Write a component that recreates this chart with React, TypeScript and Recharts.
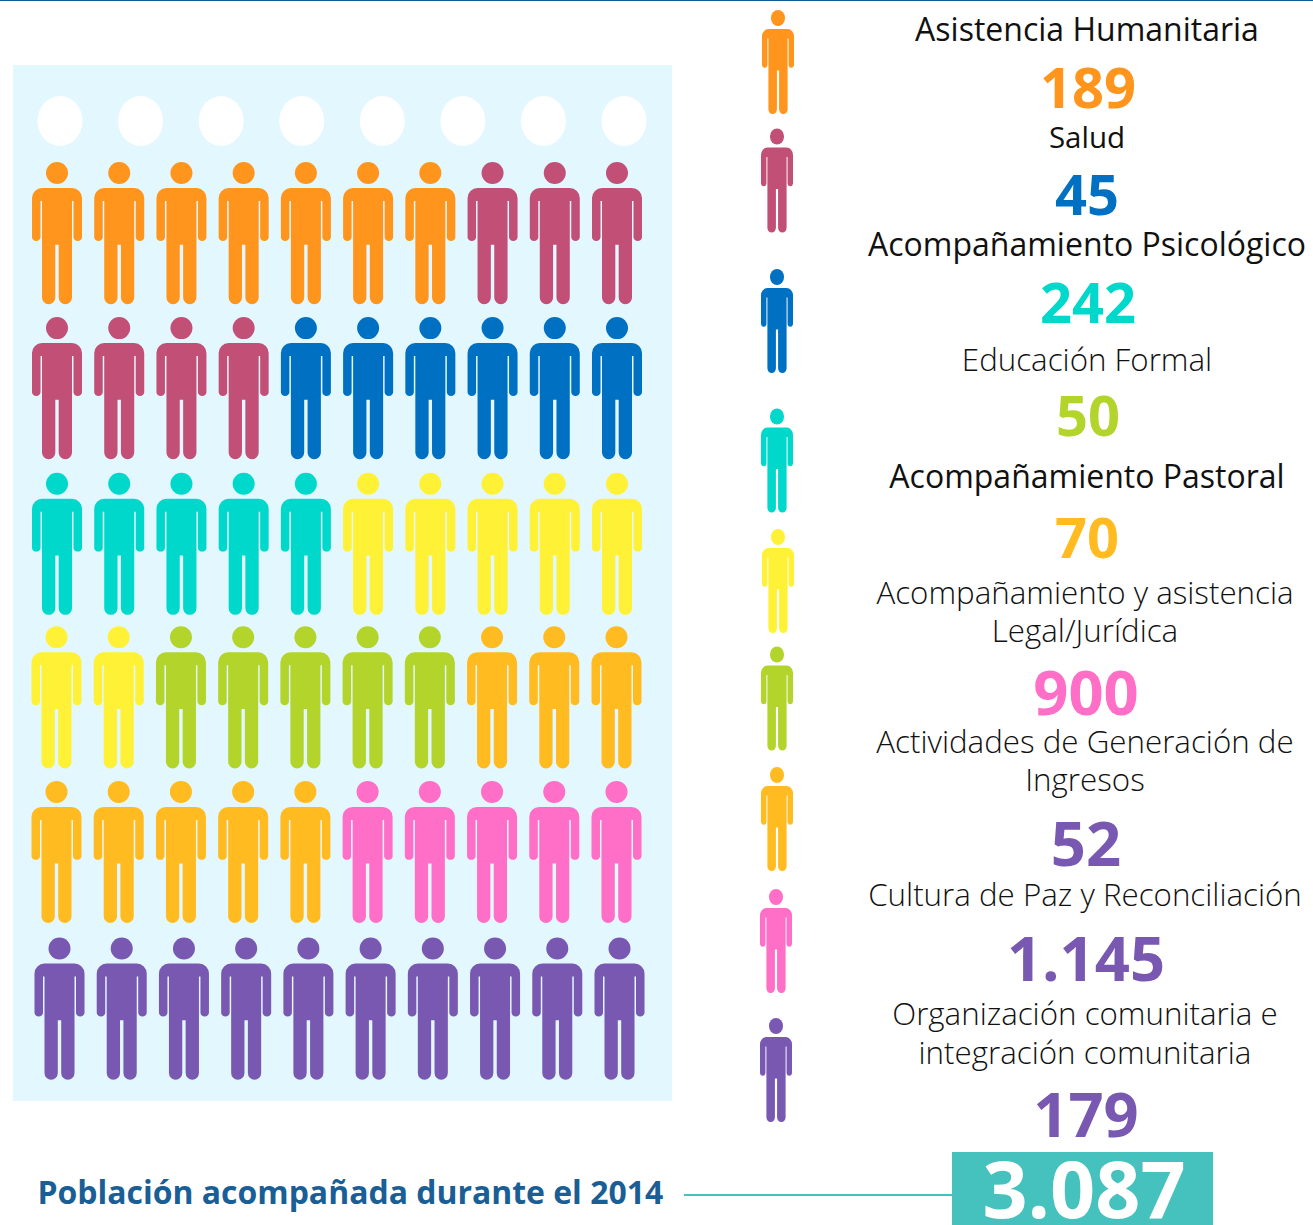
import React from 'react'
import { Scatter, ScatterChart, XAxis, YAxis } from 'recharts'

const categories = [
  'Asistencia Humanitaria',
  'Salud',
  'Acompañamiento Psicológico',
  'Educación Formal',
  'Acompañamiento Pastoral',
  'Acompañamiento y asistencia Legal/Jurídica',
  'Actividades de Generación de Ingresos',
  'Cultura de Paz y Reconciliación',
  'Organización comunitaria e integración comunitaria',
]
const totals = ['189', '45', '242', '50', '70', '900', '52', '1.145', '179']
const personColors = ['#FF951C', '#C24F76', '#0071C2', '#00D8CB', '#FFF135', '#B2D42B', '#FFBB20', '#FF6EC7', '#7858B0']
const totalColors = ['#FF951C', '#0071C2', '#00D8CB', '#B2D42B', '#FFBB20', '#FF6EC7', '#7858B0', '#7858B0', '#7858B0']

// which category each figure of the grid belongs to, row by row
const gridRows = [
  [0, 0, 0, 0, 0, 0, 0, 1, 1, 1],
  [1, 1, 1, 1, 2, 2, 2, 2, 2, 2],
  [3, 3, 3, 3, 3, 4, 4, 4, 4, 4],
  [4, 4, 5, 5, 5, 5, 5, 6, 6, 6],
  [6, 6, 6, 6, 6, 7, 7, 7, 7, 7],
  [8, 8, 8, 8, 8, 8, 8, 8, 8, 8],
]
const emptyHeads = [0, 1, 2, 3, 4, 5, 6, 7]

const gridPoints = gridRows.flatMap((cats, row) => cats.map((cat, col) => ({ col, row, cat })))
const legendPoints = categories.map((name, index) => ({ name, index, x: 0 }))
const headPoints = emptyHeads.map((col) => ({ col, y: 0 }))

// the source artwork is not perfectly aligned
const rowNudgeX = [0, 0, 0, -0.5, -0.5, 2.5]
const rowNudgeY = [0, 0, 0.5, -1, -1.5, 0]
const legendNudgeX = [1, 0, 0, 0, 1, 0, 0, -1, -1]
const legendNudgeY = [0, -7.5, 7, 20.5, 15, 6.5, 1, -3, 0]

const FONT = '"Open Sans", sans-serif'

const Person = ({ cx, cy, w, h, fill }: { cx: number; cy: number; w: number; h: number; fill: string }) => (
  <g transform={`translate(${cx} ${cy - h / 2}) scale(${w / 50} ${h / 142})`} fill={fill}>
    <ellipse cx={0} cy={11} rx={11} ry={11} />
    <path d="M-15 26H15A10 10 0 0 1 25 36V75.5A4.35 4.35 0 0 1 16.5 75.5V39H15V135.5A6.6 6.6 0 0 1 1.7 135.5V82.7H-1.7V135.5A6.6 6.6 0 0 1 -15 135.5V39H-16.5V75.5A4.35 4.35 0 0 1 -25 75.5V36A10 10 0 0 1 -15 26Z" />
  </g>
)

type Line = { text: string; y: number; x: number; size: number; color: string; weight: number }

const label = (text: string, y: number, x = 1087, weight = 400, size = 32): Line => ({ text, y, x, size, color: '#111', weight })
const light = (text: string, y: number, x = 1085): Line => label(text, y, x, 300, 31.3)
const total = (i: number, y: number, x = 1087, size = 56): Line => ({ text: totals[i], y, x, size, color: totalColors[i], weight: 700 })

const textLines: Line[] = [
  label('Asistencia Humanitaria', 41),
  total(0, 108, 1088),
  label('Salud', 148, 1087, 400, 29.5),
  total(1, 215),
  label('Acompañamiento Psicológico', 256),
  total(2, 323, 1088),
  light('Educación Formal', 371, 1087),
  total(3, 436, 1088),
  label('Acompañamiento Pastoral', 488),
  total(4, 558),
  light('Acompañamiento y asistencia', 604),
  light('Legal/Jurídica', 642),
  total(5, 715, 1086, 61.5),
  light('Actividades de Generación de', 753),
  light('Ingresos', 791),
  total(6, 866, 1086, 61.5),
  light('Cultura de Paz y Reconciliación', 906),
  total(7, 981, 1086, 61.5),
  light('Organización comunitaria e', 1025),
  light('integración comunitaria', 1064),
  total(8, 1137, 1086, 61.5),
]

export default function App() {
  return (
    <div style={{ position: 'absolute', left: 0, top: 0, width: 1313, height: 1225, background: '#fff', overflow: 'hidden' }}>
      <div style={{ position: 'absolute', left: 0, top: 0, width: 1313, height: 1, background: '#0F5F96' }} />

      <div style={{ position: 'absolute', left: 13, top: 65, width: 659, height: 1036, background: '#E3F7FF' }}>
        <div style={{ position: 'absolute', left: 0, top: 0 }}>
          <ScatterChart width={659} height={112} margin={{ top: 6, right: 48, bottom: 6, left: 47 }}>
            <XAxis type="number" dataKey="col" domain={[0, 7]} hide />
            <YAxis type="number" dataKey="y" domain={[-1, 1]} hide />
            <Scatter
              data={headPoints}
              isAnimationActive={false}
              shape={(p: any) => <ellipse cx={p.cx} cy={p.cy} rx={22.5} ry={25} fill="#fff" />}
            />
          </ScatterChart>
        </div>
        <div style={{ position: 'absolute', left: 0, top: 0 }}>
          <ScatterChart width={659} height={1036} margin={{ top: 168, right: 55, bottom: 92.5, left: 44 }}>
            <XAxis type="number" dataKey="col" domain={[0, 9]} hide />
            <YAxis type="number" dataKey="row" domain={[0, 5]} reversed hide />
            {categories.map((name, cat) => (
              <Scatter
                key={name}
                name={name}
                data={gridPoints.filter((d) => d.cat === cat)}
                fill={personColors[cat]}
                isAnimationActive={false}
                shape={(p: any) => (
                  <Person
                    cx={p.cx + rowNudgeX[p.payload.row]}
                    cy={p.cy + rowNudgeY[p.payload.row]}
                    w={50}
                    h={142}
                    fill={personColors[cat]}
                  />
                )}
              />
            ))}
          </ScatterChart>
        </div>
      </div>

      <div style={{ position: 'absolute', left: 716.5, top: 0 }}>
        <ScatterChart width={120} height={1225} margin={{ top: 62, right: 0, bottom: 155, left: 0 }}>
          <XAxis type="number" dataKey="x" domain={[-1, 1]} hide />
          <YAxis type="number" dataKey="index" domain={[0, 8]} reversed hide />
          <Scatter
            data={legendPoints}
            isAnimationActive={false}
            shape={(p: any) => (
              <Person
                cx={p.cx + legendNudgeX[p.payload.index]}
                cy={p.cy + legendNudgeY[p.payload.index]}
                w={32}
                h={104}
                fill={personColors[p.payload.index]}
              />
            )}
          />
        </ScatterChart>
      </div>

      <svg width={1313} height={1225} style={{ position: 'absolute', left: 0, top: 0, fontFamily: FONT }}>
        {textLines.map((l) => (
          <text key={l.text} x={l.x} y={l.y} textAnchor="middle" fontSize={l.size} fontWeight={l.weight} fill={l.color}>
            {l.text}
          </text>
        ))}
        <text x={37.5} y={1204} fontSize={31.95} fontWeight={700} fill="#1A5E96">
          Población acompañada durante el 2014
        </text>
        <rect x={684} y={1194} width={268} height={2} fill="#45C1BE" />
        <rect x={952} y={1152} width={261} height={73} fill="#45C1BE" />
        <text x={1084} y={1218} textAnchor="middle" fontSize={79} fontWeight={700} fill="#fff">
          3.087
        </text>
      </svg>
    </div>
  )
}
